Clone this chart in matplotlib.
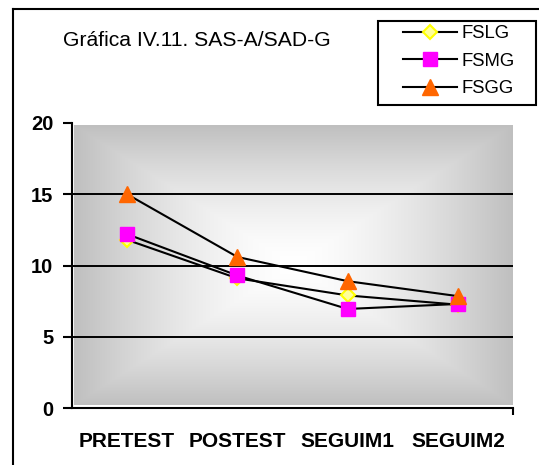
import matplotlib
matplotlib.use("Agg")
import matplotlib.pyplot as plt
import numpy as np
from matplotlib.lines import Line2D
from matplotlib.patches import Rectangle

# datos
categorias = ["PRETEST", "POSTEST", "SEGUIM1", "SEGUIM2"]
fslg = [11.8, 9.1, 7.9, 7.25]
fsmg = [12.2, 9.3, 6.95, 7.3]
fsgg = [15.0, 10.6, 8.9, 7.85]

plt.rcParams.update({"font.family": ["Liberation Sans", "DejaVu Sans"]})

W, H = 539, 465
fig = plt.figure(figsize=(W / 100, H / 100), dpi=100)
fig.patch.set_facecolor("white")

# marco exterior (cortado a la derecha y abajo)
fig.add_artist(Line2D([13 / W, 13 / W], [0, 1 - 9 / H], transform=fig.transFigure,
                      color="black", lw=1.5))
fig.add_artist(Line2D([13 / W, 1], [1 - 9 / H, 1 - 9 / H], transform=fig.transFigure,
                      color="black", lw=1.5))

ax = fig.add_axes([72 / W, 1 - 408 / H, (513 - 72) / W, (408 - 123) / H])
x = np.arange(len(categorias))
ax.set_xlim(-0.5, 3.5)
ax.set_ylim(0, 20)

# fondo degradado desde el centro
u = np.linspace(-1, 1, 400)
v = np.linspace(-1, 1, 300)
U, V = np.meshgrid(u, v)
t = np.clip(np.maximum(np.abs(U), np.abs(V)), 0, 1) ** 1.5
gris = 0.75
img = 1 - (1 - gris) * t
ax.imshow(np.dstack([img, img, img]), extent=(-0.48, 3.5, 0.2, 19.8), aspect="auto",
          origin="lower", zorder=0, interpolation="bilinear")

for yv in (5, 10, 15):
    ax.axhline(yv, color="black", lw=1.4, zorder=1)

ax.plot(x, fslg, color="black", lw=1.5, marker="D", markersize=7,
        markerfacecolor="#ffff99", markeredgecolor="#ffff00", markeredgewidth=1.5,
        label="FSLG", zorder=3)
ax.plot(x, fsmg, color="black", lw=1.5, marker="s", markersize=10,
        markerfacecolor="#ff00ff", markeredgecolor="#ff00ff",
        label="FSMG", zorder=4)
ax.plot(x, fsgg, color="black", lw=1.5, marker="^", markersize=11,
        markerfacecolor="#ff6600", markeredgecolor="#ff6600",
        label="FSGG", zorder=5)

for s in ("top", "right"):
    ax.spines[s].set_visible(False)
for s in ("left", "bottom"):
    ax.spines[s].set_linewidth(1.5)

ax.set_yticks([0, 5, 10, 15, 20])
ax.tick_params(axis="y", direction="out", length=6.5, width=1.5, pad=7, labelsize=14.5)
for lbl in ax.get_yticklabels():
    lbl.set_fontweight("bold")
ax.set_xticks(x)
ax.set_xticklabels(categorias, fontsize=15, fontweight="bold")
ax.tick_params(axis="x", length=0, pad=17)
ax.set_xticks([3.5], minor=True)
ax.tick_params(axis="x", which="minor", direction="out", length=5, width=1.5)

fig.text(63 / W, 1 - 40 / H, "Gráfica IV.11. SAS-A/SAD-G", fontsize=15.2,
         ha="left", va="center")

# leyenda: caja propia y entradas sin marco
fig.add_artist(Rectangle((378 / W, 1 - 105 / H), (536 - 378) / W, (105 - 21) / H,
                         transform=fig.transFigure, facecolor="white",
                         edgecolor="black", lw=1.5, zorder=5))
leg = fig.legend(loc="upper left", bbox_to_anchor=(403 / W, 1 - 25 / H),
                 borderaxespad=0, frameon=False, fontsize=13.3,
                 handlelength=2.9, handletextpad=0.25, borderpad=0,
                 labelspacing=0.58)
leg.set_zorder(6)

fig.savefig("out.png", dpi=100, facecolor="white")
